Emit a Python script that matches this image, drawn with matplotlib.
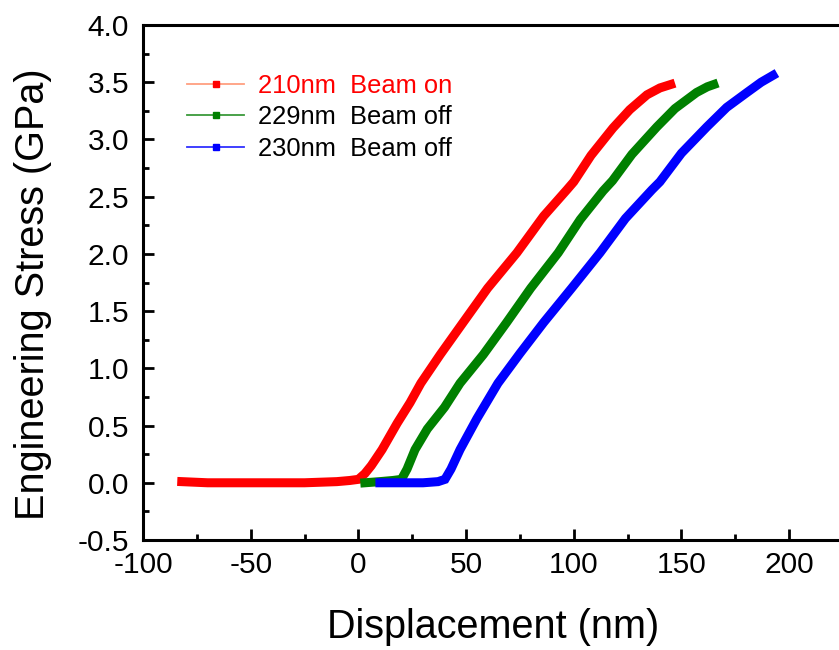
"""
Engineering stress vs displacement for three pillars (beam on / beam off).
Writes out.png (839x650).
"""
import matplotlib
matplotlib.use("Agg")
import matplotlib.pyplot as plt
from matplotlib.lines import Line2D
from matplotlib.ticker import MultipleLocator

plt.rcParams["font.family"] = ["Liberation Sans", "DejaVu Sans"]

# values
red_x = [-82, -70, -55, -40, -25, -10, -4, 0, 3, 6, 11, 18, 24, 29, 38, 48.6,
         60, 73.6, 86, 96.8, 100, 108, 118.2, 126, 134, 140, 145]
red_y = [0.01, 0.0, 0.0, 0.0, 0.0, 0.01, 0.02, 0.03, 0.08, 0.15, 0.29, 0.52, 0.70,
         0.87, 1.12, 1.40, 1.70, 2.01, 2.33, 2.56, 2.63, 2.86, 3.10, 3.26, 3.39,
         3.45, 3.48]

green_x = [3, 10, 16, 20, 22.6, 26.3, 32, 40, 47.2, 58, 68.8, 80, 92.8, 103,
           113.6, 118, 127, 138.6, 147, 157, 162, 165]
green_y = [0.0, 0.01, 0.02, 0.03, 0.12, 0.29, 0.47, 0.66, 0.87, 1.12, 1.40, 1.70,
           2.01, 2.30, 2.55, 2.64, 2.87, 3.11, 3.27, 3.41, 3.46, 3.48]

blue_x = [10, 20, 30, 37, 40.2, 43, 47.2, 55, 64.8, 75, 86, 99, 112.2, 124,
          136.3, 140, 150, 161.8, 171, 180.4, 187, 192.5]
blue_y = [0.0, 0.0, 0.0, 0.01, 0.03, 0.12, 0.29, 0.56, 0.87, 1.13, 1.40, 1.70, 2.01,
          2.31, 2.56, 2.63, 2.88, 3.11, 3.28, 3.41, 3.50, 3.56]

labels = ["210nm  Beam on", "229nm  Beam off", "230nm  Beam off"]
colors = ["#ff0000", "#008000", "#0000ff"]
legend_line_colors = ["#ff9f80", "#3a9a3a", "#3030ff"]
label_colors = ["#ff0000", "black", "black"]

xticks = [-100, -50, 0, 50, 100, 150, 200]
yticks = [-0.5, 0.0, 0.5, 1.0, 1.5, 2.0, 2.5, 3.0, 3.5, 4.0]

fig = plt.figure(figsize=(8.39, 6.5), dpi=100)
# axes runs past the right edge, as in the cropped original
ax = fig.add_axes([143 / 839, 110 / 650, 700 / 839, 515 / 650])

for xs, ys, c in zip([red_x, green_x, blue_x], [red_y, green_y, blue_y], colors):
    ax.plot(xs, ys, color=c, lw=6.5, solid_capstyle="projecting",
            solid_joinstyle="miter")

ax.set_xlim(-100, 225)
ax.set_ylim(-0.5, 4.0)
ax.set_xticks(xticks)
ax.set_yticks(yticks)
ax.set_xticklabels([f"{t:g}" for t in xticks])
ax.set_yticklabels([f"{t:.1f}" for t in yticks])
ax.xaxis.set_minor_locator(MultipleLocator(25))
ax.yaxis.set_minor_locator(MultipleLocator(0.25))

ax.tick_params(which="both", direction="in", top=False, right=False, width=2)
ax.tick_params(which="major", length=8)
ax.tick_params(which="minor", length=4)
ax.tick_params(axis="x", labelsize=21.5, pad=8)
ax.tick_params(axis="y", labelsize=21.5, pad=10)

for s in ["left", "bottom", "top"]:
    ax.spines[s].set_linewidth(2.2)
ax.spines["right"].set_visible(False)

ax.set_xlabel("Displacement (nm)", fontsize=28.5, labelpad=21)
ax.set_ylabel("Engineering Stress (GPa)", fontsize=28.5)
ax.yaxis.set_label_coords(-0.13, 0.478)

handles = [Line2D([], [], color=lc, lw=1.3, marker="s", markersize=5,
                  markerfacecolor=c, markeredgecolor=c)
           for lc, c in zip(legend_line_colors, colors)]
leg = ax.legend(handles, labels, loc="upper left", bbox_to_anchor=(0.063, 0.905),
                frameon=False, fontsize=18.4, handlelength=2.23, handletextpad=0.55,
                labelspacing=0.29, borderpad=0, borderaxespad=0)
for t, c in zip(leg.get_texts(), label_colors):
    t.set_color(c)

fig.savefig("out.png", dpi=100)
